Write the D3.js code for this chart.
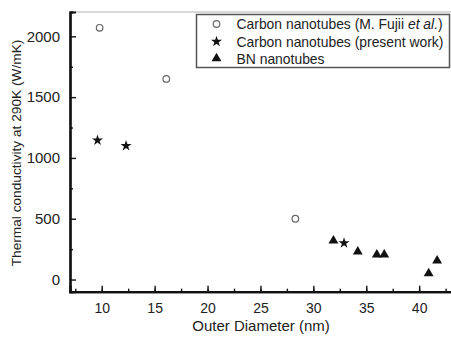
<!DOCTYPE html>
<html><head><meta charset="utf-8">
<script src="https://cdn.jsdelivr.net/npm/d3@7"></script>
<style>html,body{margin:0;padding:0;background:#fff;overflow:hidden}svg{display:block;font-family:"Liberation Sans",Arial,sans-serif}</style>
</head><body>
<script>
const fujiiX = [9.8, 16.1, 28.3];
const fujiiY = [2070, 1650, 500];
const presentX = [9.6, 12.3, 32.9];
const presentY = [1145, 1100, 300];
const bnX = [31.9, 34.2, 36.0, 36.7, 40.9, 41.7];
const bnY = [320, 230, 205, 205, 50, 155];
const xTicks = [10, 15, 20, 25, 30, 35, 40];
const yTicks = [0, 500, 1000, 1500, 2000];
const legendLabels = ["Carbon nanotubes (M. Fujii ", "Carbon nanotubes (present work)", "BN nanotubes"];

(function () {
const W = 451, H = 337;
const svg = d3.select("body").append("svg").attr("width", W).attr("height", H);
const mLeft = 70, mTop = 12, mBottom = 291.7;
const x = d3.scaleLinear().domain([7, 45]).range([mLeft, mLeft + 38 * 10.58]);
const y = d3.scaleLinear().domain([-100, 2200]).range([mBottom, mTop]);

// top frame line
svg.append("line").attr("x1", mLeft).attr("x2", W).attr("y1", mTop).attr("y2", mTop)
  .attr("stroke", "#ccc").attr("stroke-width", 1.5);

// x axis
const xMinor = d3.range(7.5, 45, 2.5);
const gx = svg.append("g").attr("transform", `translate(0,${mBottom})`);
gx.call(d3.axisBottom(x).tickValues(xMinor).tickSize(-3).tickFormat(""));
gx.append("g").call(d3.axisBottom(x).tickValues(xTicks).tickSize(-6).tickPadding(11).tickFormat(d3.format("d")));
gx.selectAll(".domain").attr("stroke", "#111").attr("stroke-width", 2.2);
gx.selectAll(".tick line").attr("stroke", "#111").attr("stroke-width", 1.4);
gx.selectAll(".tick text").attr("font-size", 14).attr("fill", "#222").attr("font-family", "Liberation Sans, Arial, sans-serif");

// y axis
const yMinor = d3.range(0, 2200, 250).filter(v => v % 500 !== 0);
const gy = svg.append("g").attr("transform", `translate(${mLeft},0)`);
gy.call(d3.axisLeft(y).tickValues(yMinor).tickSize(-3).tickFormat(""));
gy.append("g").call(d3.axisLeft(y).tickValues(yTicks).tickSize(-6).tickPadding(10).tickFormat(d3.format("d")));
gy.selectAll(".domain").attr("stroke", "#111").attr("stroke-width", 2.2);
gy.selectAll(".tick line").attr("stroke", "#111").attr("stroke-width", 1.4);
gy.selectAll(".tick text").attr("font-size", 15).attr("fill", "#222").attr("font-family", "Liberation Sans, Arial, sans-serif");

// axis titles
svg.append("text").attr("x", 261).attr("y", 331).attr("text-anchor", "middle")
  .attr("font-size", 15).attr("fill", "#222").text("Outer Diameter (nm)");
svg.append("text").attr("transform", `translate(21,153) rotate(-90)`).attr("text-anchor", "middle")
  .attr("font-size", 13.7).attr("fill", "#222").text("Thermal conductivity at 290K (W/mK)");

const star = d3.symbol().type(d3.symbolStar).size(38);
const tri = d3.symbol().type(d3.symbolTriangle).size(42);

// data
svg.append("g").selectAll("circle").data(fujiiX).join("circle")
  .attr("cx", d => x(d)).attr("cy", (d, i) => y(fujiiY[i])).attr("r", 3.3)
  .attr("fill", "none").attr("stroke", "#666").attr("stroke-width", 1.2);
svg.append("g").selectAll("path").data(presentX).join("path")
  .attr("d", star).attr("transform", (d, i) => `translate(${x(d)},${y(presentY[i])})`)
  .attr("fill", "#111");
svg.append("g").selectAll("path").data(bnX).join("path")
  .attr("d", tri).attr("transform", (d, i) => `translate(${x(d)},${y(bnY[i])})`)
  .attr("fill", "#111");

// legend
const lg = svg.append("g");
lg.append("rect").attr("x", 196.5).attr("y", 14.5).attr("width", 253).attr("height", 53)
  .attr("fill", "#fff").attr("stroke", "#555").attr("stroke-width", 1.5);
const rows = [24, 41.5, 58.5];
lg.append("circle").attr("cx", 216.5).attr("cy", rows[0]).attr("r", 3.3).attr("fill", "none").attr("stroke", "#666").attr("stroke-width", 1.2);
lg.append("path").attr("d", star).attr("transform", `translate(216.5,${rows[1]})`).attr("fill", "#111");
lg.append("path").attr("d", tri).attr("transform", `translate(216.5,${rows[2]})`).attr("fill", "#111");
legendLabels.forEach((t, i) => {
  const tx = lg.append("text").attr("x", 236.5).attr("y", rows[i] + 5).attr("font-size", 13.9).attr("fill", "#222").text(t);
  if (i === 0) {
    tx.append("tspan").attr("font-style", "italic").text("et al.");
    tx.append("tspan").text(")");
  }
});
})();
</script>
</body></html>
